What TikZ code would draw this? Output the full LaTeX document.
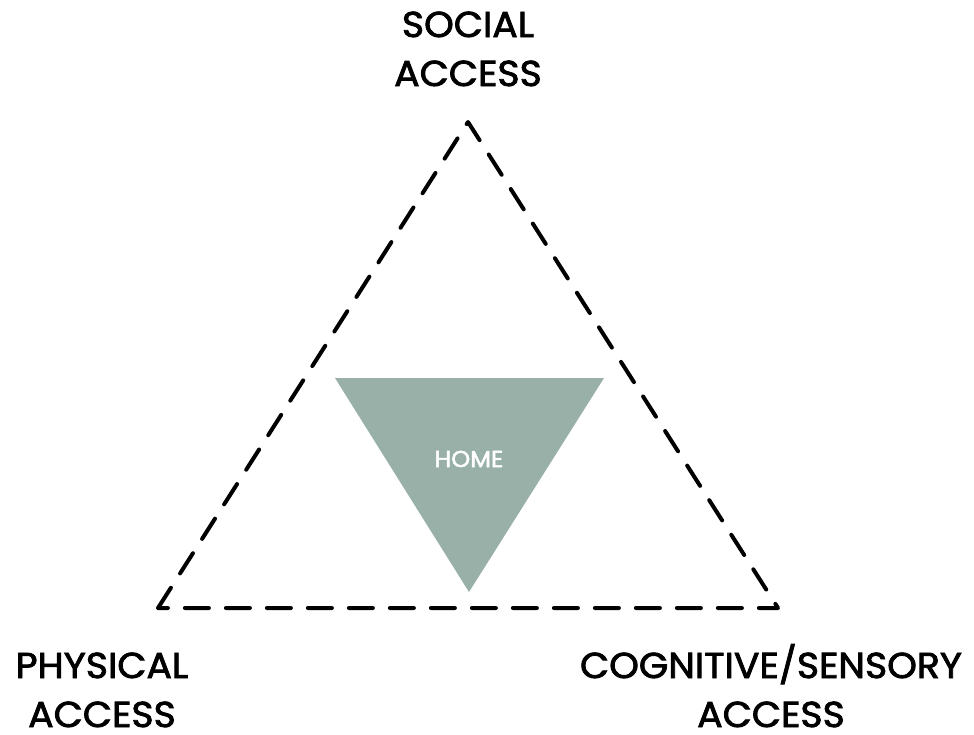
\documentclass[tikz,border=0pt]{standalone}
\usepackage{fontspec}
\setmainfont{Poppins}[FakeBold=2.2,FakeStretch=1.05]
\definecolor{homegreen}{HTML}{98B0A8}
\begin{document}
\begin{tikzpicture}[x=1pt,y=-1pt,
  lbl/.style={font=\fontsize{36}{49}\selectfont, align=center, inner sep=0pt, text=black, anchor=base},
  outer/.style={draw=black, line width=4pt, dash pattern=on 24pt off 17pt, line cap=round, line join=round},
  inner/.style={fill=homegreen, draw=none}]
\useasboundingbox (0,0) rectangle (974,734);
\coordinate (A) at (468,122);
\coordinate (B) at (158,608);
\coordinate (C) at (778,608);
\draw[outer] (B) -- (A) -- (C) -- cycle;
\coordinate (P) at (335,378);
\coordinate (Q) at (604,378);
\coordinate (R) at (469,592);
\fill[inner] (P) -- (Q) -- (R) -- cycle;
\node[font=\fontsize{23}{26}\selectfont, text=white, inner sep=0pt, anchor=base] (home) at (469,467) {HOME};
\node[lbl] (social) at (468,86) {SOCIAL\\ACCESS};
\node[lbl] (phys) at (102,727) {PHYSICAL\\ACCESS};
\node[lbl] (cog) at (771,727) {COGNITIVE/SENSORY\\ACCESS};
\end{tikzpicture}
\end{document}
